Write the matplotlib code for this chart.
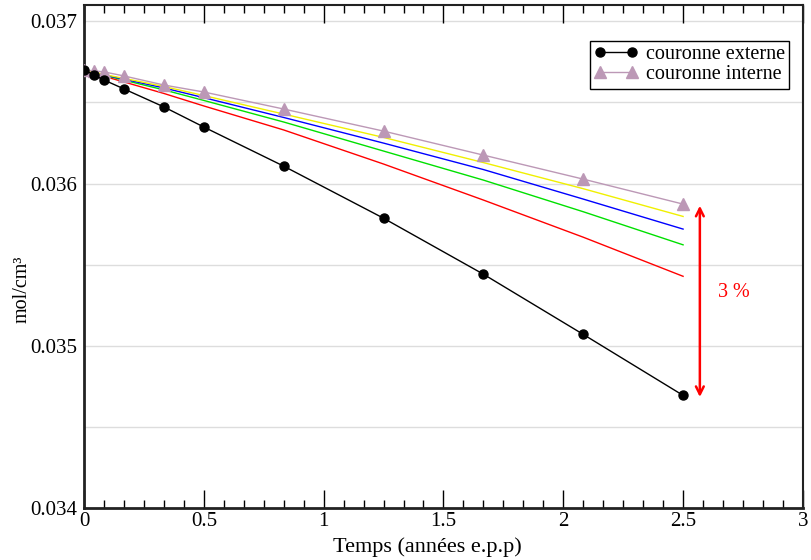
import numpy as np
import matplotlib.pyplot as plt
from matplotlib.ticker import MultipleLocator, FuncFormatter

plt.rcParams['font.family'] = ['Liberation Serif', 'DejaVu Serif']

# temps en années (points mensuels puis plus espacés)
temps = [0, 1/24, 1/12, 1/6, 1/3, 1/2, 5/6, 5/4, 5/3, 25/12, 5/2]

# concentrations (mol/cm3)
externe = [0.03670, 0.036669, 0.036638, 0.036583, 0.036472, 0.036348,
           0.036107, 0.035786, 0.035441, 0.035070, 0.034694]
interne = [0.03670, 0.036694, 0.036688, 0.036663, 0.036607, 0.036564,
           0.036459, 0.036323, 0.036175, 0.036027, 0.035873]
couche_jaune = [0.03670, 0.036688, 0.036672, 0.036648, 0.036598, 0.036542,
                0.036428, 0.036284, 0.036129, 0.035968, 0.035797]
couche_bleue = [0.03670, 0.036685, 0.036669, 0.036643, 0.036589, 0.036529,
                0.036407, 0.036249, 0.036086, 0.035904, 0.035719]
couche_verte = [0.03670, 0.036683, 0.036667, 0.036637, 0.036577, 0.036512,
                0.036379, 0.036200, 0.036021, 0.035826, 0.035622]
couche_rouge = [0.03670, 0.036680, 0.036661, 0.036626, 0.036555, 0.036478,
                0.036330, 0.036120, 0.035898, 0.035669, 0.035428]

fig = plt.figure(figsize=(8.11, 5.60), dpi=100)
ax = fig.add_axes([0.1036, 0.0929, 0.8864, 0.8981])

# grille horizontale
for yg in np.arange(0.0345, 0.03701, 0.0005):
    ax.axhline(yg, color='#dddddd', lw=1.0, zorder=0)

ax.plot(temps, couche_rouge, color='#ff0000', lw=1.0, zorder=2)
ax.plot(temps, couche_verte, color='#00e000', lw=1.0, zorder=2)
ax.plot(temps, couche_bleue, color='#0000ff', lw=1.0, zorder=2)
ax.plot(temps, couche_jaune, color='#f0f000', lw=1.0, zorder=2)
ax.plot(temps, externe, color='black', lw=1.0, marker='o', ms=6.5,
        label='couronne externe', zorder=4)
ax.plot(temps, interne, color='#bc98b6', lw=1.0, marker='^', ms=8.5,
        label='couronne interne', zorder=3)

# flèche 3 %
ax.annotate('', xy=(2.57, externe[-1] - 0.00001), xytext=(2.57, interne[-1] - 0.00001),
            arrowprops=dict(arrowstyle='<->', color='#ff0000', lw=1.8,
                            mutation_scale=14, shrinkA=0, shrinkB=0), zorder=5)
ax.text(2.645, 0.035327, '3 %', color='#ff0000', fontsize=14.5, va='center', ha='left')

ax.set_xlim(0, 3)
ax.set_ylim(0.034, 0.0371)
ax.xaxis.set_major_locator(MultipleLocator(0.5))
ax.xaxis.set_minor_locator(MultipleLocator(1/12))
ax.yaxis.set_major_locator(MultipleLocator(0.001))
ax.xaxis.set_major_formatter(FuncFormatter(lambda v, p: f'{v:g}'))
ax.yaxis.set_major_formatter(FuncFormatter(lambda v, p: f'{v:.3f}'))
ax.tick_params(axis='x', which='major', direction='in', length=13, width=1,
               top=True, labelsize=15, pad=3)
ax.tick_params(axis='x', which='minor', direction='in', length=6, width=1, top=True)
ax.tick_params(axis='y', which='both', length=0, labelsize=15, pad=5)

for s in ['left', 'bottom']:
    ax.spines[s].set_linewidth(2.0)
    ax.spines[s].set_color('#222222')
for s in ['right', 'top']:
    ax.spines[s].set_linewidth(1.5)
    ax.spines[s].set_color('#222222')

ax.set_xlabel('Temps (années e.p.p)', fontsize=16)
ax.xaxis.set_label_coords(0.478, -0.058)
ax.set_ylabel('mol/cm³', fontsize=14.5)
ax.yaxis.set_label_coords(-0.073, 0.435)

leg = ax.legend(loc='upper right', bbox_to_anchor=(0.981, 0.928), fontsize=14.5,
                frameon=True, fancybox=False, edgecolor='black', framealpha=1,
                borderpad=0.2, handlelength=2.2, handletextpad=0.4, labelspacing=0.05,
                numpoints=2, borderaxespad=0.0)
leg.get_frame().set_linewidth(1.0)

fig.savefig('out.png', dpi=100)
